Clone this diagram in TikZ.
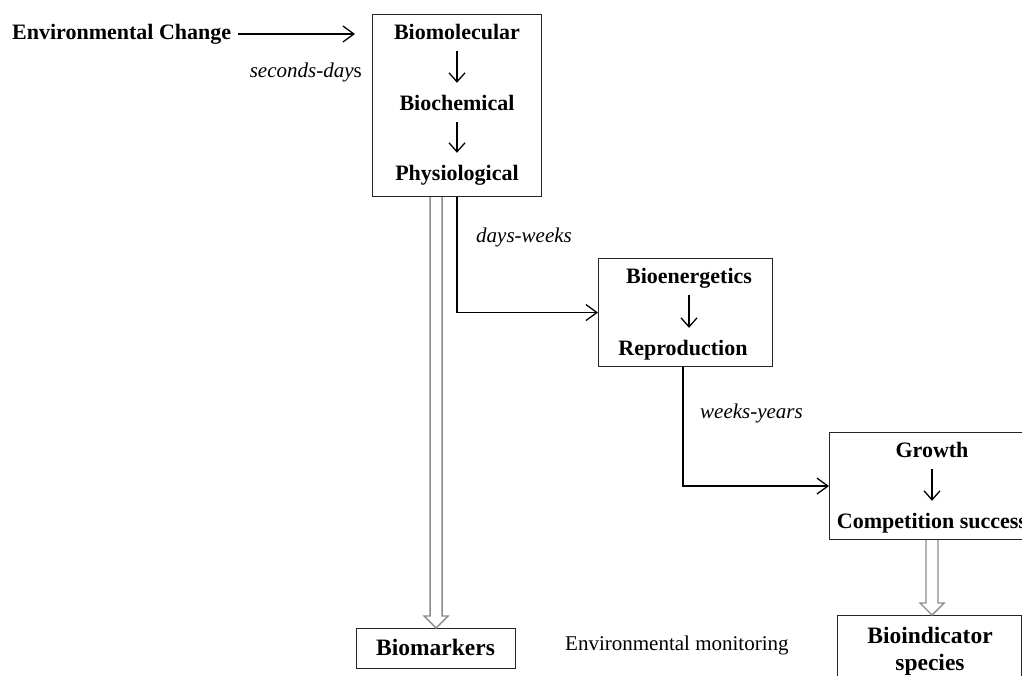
\documentclass[tikz,border=0pt]{standalone}
\usepackage{fontspec}
\setmainfont{Liberation Serif}
\usetikzlibrary{arrows.meta,calc}
\begin{document}
\begin{tikzpicture}[x=1pt,y=-1pt,
  box/.style={draw=black!85, line width=1.1pt, inner sep=0pt, anchor=north west},
  lbl/.style={font=\fontsize{22}{26}\selectfont\bfseries, inner sep=0pt, anchor=base, text height=15pt, text depth=5pt},
  biglbl/.style={font=\fontsize{23.5}{27}\selectfont\bfseries, inner sep=0pt, anchor=base},
  tlbl/.style={font=\fontsize{21}{25}\selectfont, inner sep=0pt},
  inarr/.style={line width=1.3pt, shorten <=7pt, shorten >=12pt, -{Straight Barb[length=9pt,width=16pt,line width=1.3pt]}},
  link/.style={line width=1.3pt, -{Straight Barb[length=11pt,width=16pt,line width=1.3pt]}},
  hollow/.style={draw=black!45, line width=1.4pt, line join=miter},
]
\useasboundingbox (0,0) rectangle (1022,675);
\clip (0,0) rectangle (1022,675);

% boxes
\node[box, minimum width=169pt, minimum height=182pt] (b1) at (372,14) {};
\node[box, minimum width=174pt, minimum height=108pt] (b2) at (598,258) {};
\node[box, minimum width=210pt, minimum height=107pt] (b3) at (829,432) {};
\node[box, minimum width=159pt, minimum height=40pt] (bm) at (356,628) {};
\node[box, minimum width=184pt, minimum height=80pt] (bi) at (837,615) {};

% texts
\node[lbl, anchor=base west] (ec) at (12,39) {Environmental Change};
\node[lbl] (t1) at (457,39) {Biomolecular};
\node[lbl] (t2) at (457,110) {Biochemical};
\node[lbl] (t3) at (457,180) {Physiological};
\node[lbl] (be) at (689,283) {Bioenergetics};
\node[lbl] (rp) at (683,355) {Reproduction};
\node[lbl] (gr) at (932,457) {Growth};
\node[lbl] (cs) at (932,528) {Competition success};
\node[biglbl] (bmt) at (435.5,655) {Biomarkers};
\node[biglbl] (bit) at (930,643) {Bioindicator};
\node[biglbl] (bis) at (930,670) {species};
\node[tlbl, anchor=base west] (em) at (565,650) {Environmental monitoring};

\node[tlbl, anchor=base east] (sd) at (362,77) {\textit{seconds-day}s};
\node[tlbl, anchor=base west] (dw) at (476,242) {\textit{days-weeks}};
\node[tlbl, anchor=base west] (wy) at (700,418) {\textit{weeks-years}};

% arrows inside boxes
\draw[inarr] (t1.south) -- (t2.north);
\draw[inarr] (t2.south) -- (t3.north);
\draw[inarr] (be.south) -- (be.south |- rp.north);
\draw[inarr] (gr.south) -- (cs.north);

% connectors
\draw[link, shorten <=7pt, shorten >=17pt] (ec.east) -- (ec.east -| b1.west);
\draw[link] (t3 |- b1.south) |- (b2.west);
\draw[link] (rp |- b2.south) |- (b3.west);

% hollow arrows
\coordinate (h1) at (bm.north |- b1.south);
\draw[hollow] ($(h1)+(-6,0)$) -- ($(bm.north)+(-6,-12)$) -- ($(bm.north)+(-12,-12)$) -- (bm.north)
  -- ($(bm.north)+(12,-12)$) -- ($(bm.north)+(6,-12)$) -- ($(h1)+(6,0)$);
\coordinate (h2) at (gr |- b3.south);
\coordinate (h3) at (gr |- bi.north);
\draw[hollow] ($(h2)+(-6,0)$) -- ($(h3)+(-6,-12)$) -- ($(h3)+(-12,-12)$) -- (h3)
  -- ($(h3)+(12,-12)$) -- ($(h3)+(6,-12)$) -- ($(h2)+(6,0)$);
\end{tikzpicture}
\end{document}
